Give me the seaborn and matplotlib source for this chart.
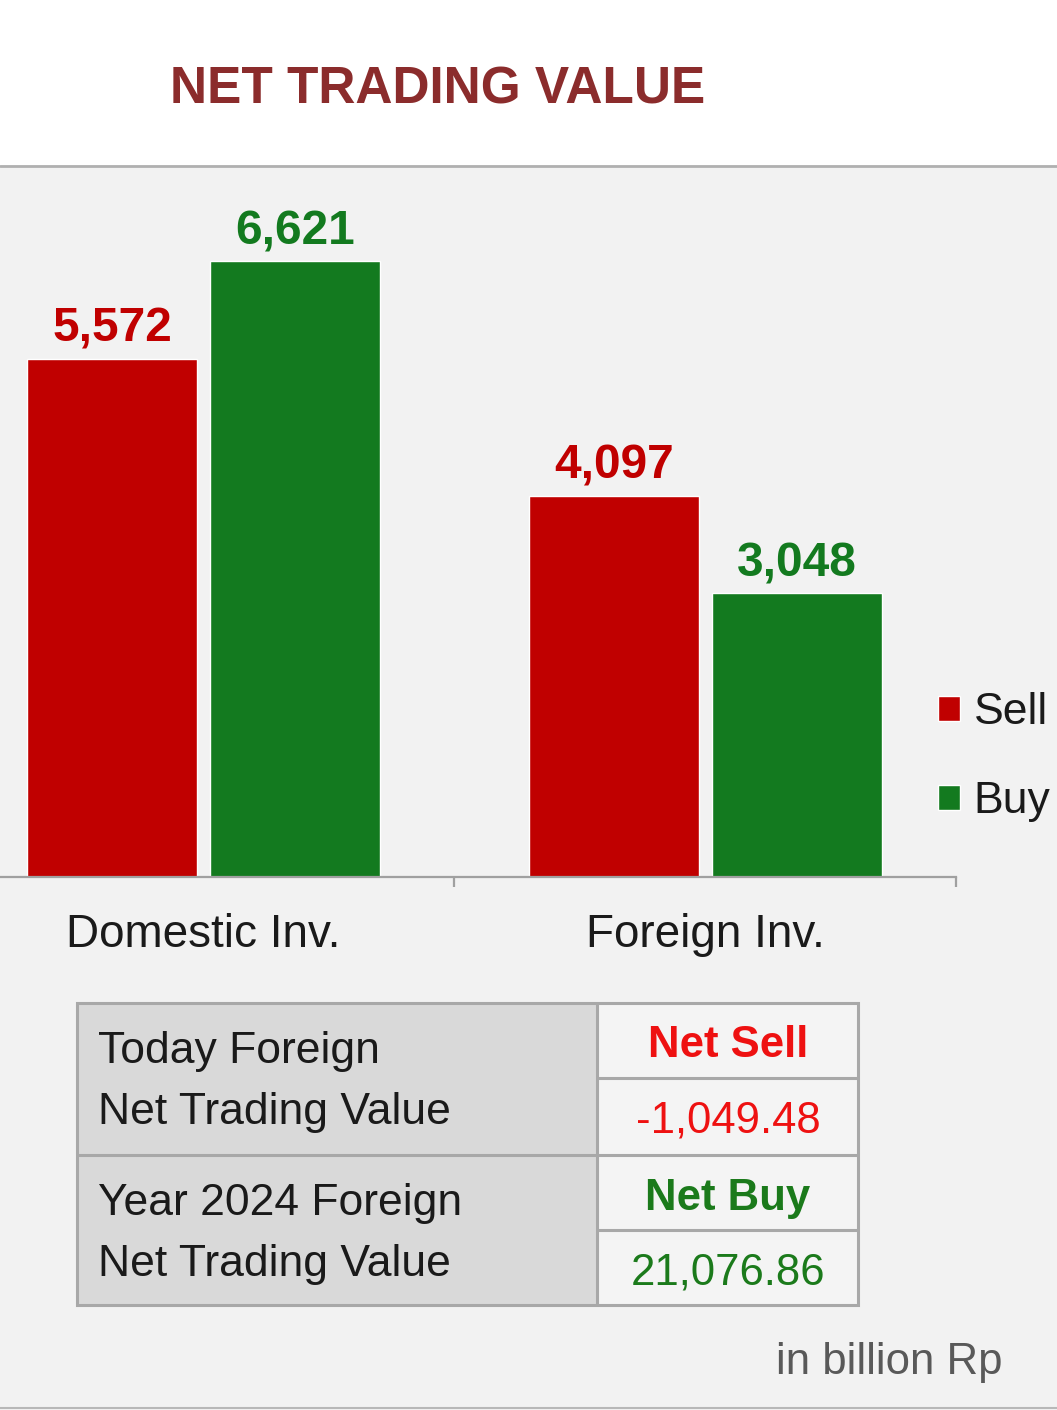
import matplotlib
matplotlib.use("Agg")
import matplotlib.pyplot as plt
from matplotlib.patches import Rectangle
from matplotlib.lines import Line2D
import seaborn as sns
import pandas as pd

# data
categories = ["Domestic Inv.", "Foreign Inv."]
sides = ["Sell", "Buy"]
sell_values = [5572, 4097]
buy_values = [6621, 3048]
table_labels = [["Today Foreign", "Net Trading Value"],
                ["Year 2024 Foreign", "Net Trading Value"]]
table_status = ["Net Sell", "Net Buy"]
table_values = ["-1,049.48", "21,076.86"]
unit_note = "in billion Rp"
title = "NET TRADING VALUE"

df = pd.DataFrame({
    "investor": categories * 2,
    "side": ["Sell"] * len(categories) + ["Buy"] * len(categories),
    "value": sell_values + buy_values,
})

W, H = 1057, 1410
RED = "#C00000"
GREEN = "#137A1F"
TXT = "#1a1a1a"
BORDER = "#a8a8a8"

sns.set_style("white")
plt.rcParams["font.family"] = ["Liberation Sans", "DejaVu Sans"]

fig = plt.figure(figsize=(W / 100, H / 100), dpi=100, facecolor="#f2f2f2")


def fx(x):
    return x / W


def fy(y):
    return 1 - y / H


# white header strip + separator lines
fig.add_artist(Rectangle((0, fy(165)), 1, 1 - fy(165), transform=fig.transFigure,
                         facecolor="white", edgecolor="none", zorder=-5))
fig.add_artist(Line2D([0, 1], [fy(166), fy(166)], transform=fig.transFigure,
                      color="#b0b0b0", lw=2))
fig.add_artist(Line2D([0, 1], [fy(1408), fy(1408)], transform=fig.transFigure,
                      color="#b8b8b8", lw=1.5))

fig.text(fx(438), fy(103), title, ha="center", va="baseline", fontsize=37,
         fontweight="bold", color="#8B2C2C")

# bar chart
ax_top, ax_bot, ax_right = 175, 877, 956
ax = fig.add_axes([0, fy(ax_bot), fx(ax_right), (ax_bot - ax_top) / H])
ax.set_facecolor("none")
sns.barplot(data=df, x="investor", y="value", hue="side", hue_order=sides,
            palette={"Sell": RED, "Buy": GREEN}, saturation=1, width=0.729,
            gap=0.071, ax=ax)

ax.set_xlim(-203.5 / 502, 1.5)
ax.set_ylim(0, (ax_bot - ax_top) * 10.75)
for cont, col in zip(ax.containers, [RED, GREEN]):
    ax.bar_label(cont, labels=[f"{v:,.0f}" for v in cont.datavalues], padding=5,
                 fontsize=34.5, fontweight="bold", color=col)

for s in ["top", "left", "right"]:
    ax.spines[s].set_visible(False)
ax.spines["bottom"].set_color("#a0a0a0")
ax.spines["bottom"].set_linewidth(1.6)
ax.set_yticks([])
ax.set_xlabel("")
ax.set_ylabel("")
ax.tick_params(axis="x", which="major", length=0, pad=26, labelsize=33,
               labelcolor=TXT)
ax.set_xticks([0.5, 1.5], minor=True)
ax.tick_params(axis="x", which="minor", bottom=True, length=7, width=1.6,
               color="#a0a0a0", direction="out")

handles, labels = ax.get_legend_handles_labels()
ax.legend(handles, labels, loc="upper left", bbox_to_anchor=(fx(938), fy(692)),
          bbox_transform=fig.transFigure, frameon=False, borderpad=0,
          borderaxespad=0, handlelength=0.5, handleheight=0.5,
          handletextpad=0.3, labelspacing=1.08, fontsize=32, labelcolor=TXT)

# summary table
tx0, tx1, tmid = 77, 858, 597
ty0, ty1, tymid = 1003, 1305, 1155
fig.add_artist(Rectangle((fx(tx0), fy(ty1)), fx(tmid - tx0), (ty1 - ty0) / H,
                         transform=fig.transFigure, facecolor="#d9d9d9",
                         edgecolor="none"))
fig.add_artist(Rectangle((fx(tmid), fy(ty1)), fx(tx1 - tmid), (ty1 - ty0) / H,
                         transform=fig.transFigure, facecolor="#f4f4f4",
                         edgecolor="none"))
fig.add_artist(Rectangle((fx(tx0), fy(ty1)), fx(tx1 - tx0), (ty1 - ty0) / H,
                         transform=fig.transFigure, facecolor="none",
                         edgecolor=BORDER, lw=2.2))
for xs, y in [((tx0, tx1), tymid), ((tmid, tx1), 1078), ((tmid, tx1), 1230)]:
    fig.add_artist(Line2D([fx(xs[0]), fx(xs[1])], [fy(y), fy(y)],
                          transform=fig.transFigure, color=BORDER, lw=2.2))
fig.add_artist(Line2D([fx(tmid), fx(tmid)], [fy(ty0), fy(ty1)],
                       transform=fig.transFigure, color=BORDER, lw=2.2))

label_base = [(1063, 1124), (1215, 1276)]
status_base = [1057, 1210]
value_base = [1132, 1284]
colors_status = ["#EE1111", "#1B7A1B"]
for i in range(2):
    for line, yb in zip(table_labels[i], label_base[i]):
        fig.text(fx(98), fy(yb), line, ha="left", va="baseline", fontsize=32,
                 color=TXT)
    fig.text(fx(728), fy(status_base[i]), table_status[i], ha="center",
             va="baseline", fontsize=31.5, fontweight="bold",
             color=colors_status[i])
    fig.text(fx(728), fy(value_base[i]), table_values[i], ha="center",
             va="baseline", fontsize=31.5, color=colors_status[i])

fig.text(fx(1003), fy(1374), unit_note, ha="right", va="baseline", fontsize=31.5,
         color="#595959")

fig.savefig("out.png", dpi=100, facecolor=fig.get_facecolor())
